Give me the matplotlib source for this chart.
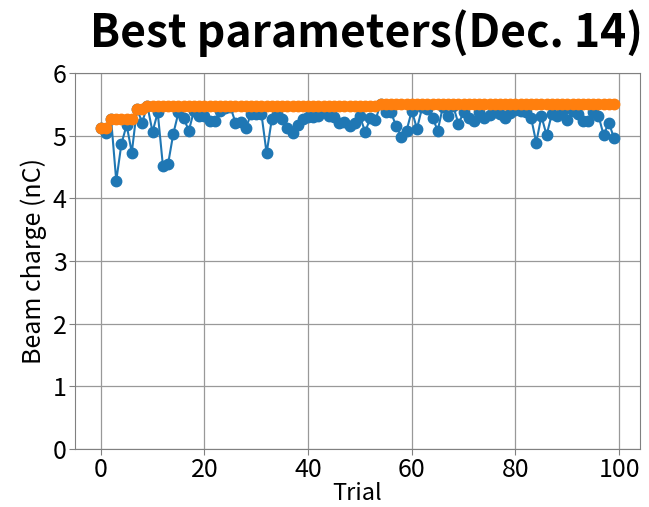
import numpy as np
import matplotlib
matplotlib.use("Agg")
import matplotlib.pyplot as plt

plt.rcParams['font.family'] = ['Noto Sans CJK JP', 'DejaVu Sans']

# beam charge per trial (nC)
trial = np.arange(100)
charge = [5.12, 5.04, 5.27, 4.28, 4.87, 5.17, 4.73, 5.43, 5.21, 5.48,
          5.06, 5.37, 4.52, 4.55, 5.03, 5.37, 5.28, 5.08, 5.40, 5.32,
          5.32, 5.24, 5.24, 5.39, 5.44, 5.46, 5.21, 5.22, 5.12, 5.35,
          5.35, 5.35, 4.72, 5.26, 5.35, 5.26, 5.13, 5.04, 5.17, 5.27,
          5.30, 5.30, 5.32, 5.37, 5.31, 5.30, 5.20, 5.22, 5.16, 5.20,
          5.31, 5.06, 5.28, 5.25, 5.51, 5.37, 5.37, 5.15, 4.98, 5.08,
          5.40, 5.11, 5.45, 5.43, 5.29, 5.08, 5.46, 5.32, 5.47, 5.19,
          5.37, 5.28, 5.23, 5.38, 5.28, 5.33, 5.37, 5.35, 5.29, 5.36,
          5.41, 5.39, 5.37, 5.29, 4.89, 5.31, 5.01, 5.34, 5.31, 5.37,
          5.25, 5.40, 5.34, 5.23, 5.23, 5.38, 5.32, 5.01, 5.21, 4.96]
# best value so far
best = [5.12, 5.12] + [5.27] * 5 + [5.43] * 2 + [5.48] * 45 + [5.51] * 46

fig = plt.figure(figsize=(6.49, 5.07), dpi=100)
ax = fig.add_axes([0.1156, 0.1144, 0.870, 0.7416])

ax.plot(trial, charge, "o-", color="#1f77b4", lw=1.5, ms=7.5, zorder=3)
ax.plot(trial, best, "o-", color="#ff7f0e", lw=1.5, ms=7.5, zorder=4)

ax.set_ylim(0, 6)
ax.set_xticks([0, 20, 40, 60, 80, 100])
ax.set_yticks(range(7))
ax.grid(True, color="#999999", lw=0.9)
ax.set_axisbelow(True)
for s in ax.spines.values():
    s.set_color("#808080")
ax.tick_params(labelsize=18, color="#808080", length=4, pad=2)
ax.set_xlabel("Trial", fontsize=17, labelpad=-1)
ax.set_ylabel("Beam charge (nC)", fontsize=18, labelpad=4)

fig.text(0.565, 0.935, "Best parameters(Dec. 14)", fontsize=32,
         fontweight="bold", ha="center", va="center")

fig.savefig("out.png", dpi=100)
